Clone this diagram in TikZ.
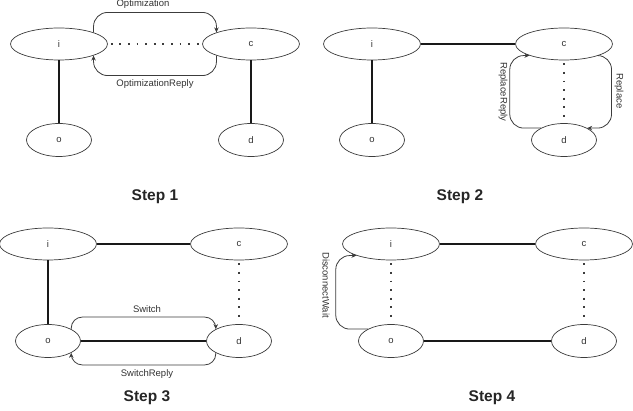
\documentclass[tikz,border=0pt]{standalone}
\usepackage{fontspec}
\setmainfont{Liberation Sans}
\usetikzlibrary{arrows.meta, shapes.geometric}
\definecolor{linegray}{HTML}{3C3C3C}
\definecolor{textgray}{HTML}{333333}

\begin{document}
\begin{tikzpicture}[x=1pt, y=-1pt, >={Stealth[length=5pt,width=4.5pt]},
  bignode/.style={ellipse, draw=linegray, line width=0.7pt, fill=white, minimum width=97pt, minimum height=32pt, inner sep=0pt, text=textgray, font=\fontsize{9.5}{11}\selectfont},
  smallnode/.style={bignode, minimum width=65pt, minimum height=33pt},
  link/.style={line width=2.2pt, black!90},
  idle/.style={linegray, line width=1.8pt, dash pattern=on 1.8pt off 6.8pt, shorten <=3pt, shorten >=3pt},
  msg/.style={->, linegray, line width=0.8pt, rounded corners=14pt},
  msglabel/.style={text=textgray, inner sep=0pt, font=\fontsize{9.5}{11}\selectfont},
  steplabel/.style={text=black!85, inner sep=0pt, font=\fontsize{15.5}{18}\selectfont\bfseries}]
  \useasboundingbox (0,0) rectangle (633,411);

  % Step 1
  \node[bignode] (i1) at (59,44) {i};
  \node[bignode] (c1) at (251,44) {c};
  \node[smallnode] (o1) at (59,140) {o};
  \node[smallnode] (d1) at (251,140) {d};
  \draw[link] (i1) -- (o1);
  \draw[link] (c1) -- (d1);
  \draw[idle] (i1) -- (c1);
  \draw[msg] (i1.north east) -- ++(0,-20) -| (c1.north west);
  \draw[msg] (c1.south west) -- ++(0,20) -| (i1.south east);
  \node[msglabel] (opt) at (143,4) {Optimization};
  \node[msglabel] (optreply) at (155,84) {OptimizationReply};
  \node[steplabel] (step1) at (155,197) {Step 1};

  % Step 2
  \node[bignode] (i2) at (372,44) {i};
  \node[bignode] (c2) at (564,44) {c};
  \node[smallnode] (o2) at (372,140) {o};
  \node[smallnode] (d2) at (564,140) {d};
  \draw[link] (i2) -- (o2);
  \draw[link] (i2) -- (c2);
  \draw[idle] (c2) -- (d2);
  \draw[msg] (c2.south east) -- ++(13,0) |- (d2.north east);
  \draw[msg] (d2.north west) -- ++(-31,0) |- (c2.south west);
  \node[msglabel, rotate=-90] (rep) at (619,91) {Replace};
  \node[msglabel, rotate=-90] (repreply) at (503,92) {ReplaceReply};
  \node[steplabel] (step2) at (460,197) {Step 2};

  % Step 3
  \node[bignode] (i3) at (48,244) {i};
  \node[bignode] (c3) at (239,244) {c};
  \node[smallnode] (o3) at (48,341) {o};
  \node[smallnode] (d3) at (239,341) {d};
  \draw[link] (i3) -- (o3);
  \draw[link] (i3) -- (c3);
  \draw[link] (o3) -- (d3);
  \draw[idle] (c3) -- (d3);
  \draw[msg, rounded corners=11pt] (o3.north east) -- ++(0,-12) -| (d3.north west);
  \draw[msg, rounded corners=11pt] (d3.south west) -- ++(0,12) -| (o3.south east);
  \node[msglabel] (sw) at (147,309) {Switch};
  \node[msglabel] (swreply) at (147,374) {SwitchReply};
  \node[steplabel] (step3) at (147,398) {Step 3};

  % Step 4
  \node[bignode] (i4) at (391,244) {i};
  \node[bignode] (c4) at (584,244) {c};
  \node[smallnode] (o4) at (391,341) {o};
  \node[smallnode] (d4) at (584,341) {d};
  \draw[link] (i4) -- (c4);
  \draw[link] (o4) -- (d4);
  \draw[idle] (i4) -- (o4);
  \draw[idle] (c4) -- (d4);
  \draw[msg] (o4.north west) -- ++(-32,0) |- (i4.south west);
  \node[msglabel, rotate=-90] (dwait) at (326,285) {DisconnectWait};
  \node[steplabel] (step4) at (492,398) {Step 4};
\end{tikzpicture}
\end{document}
